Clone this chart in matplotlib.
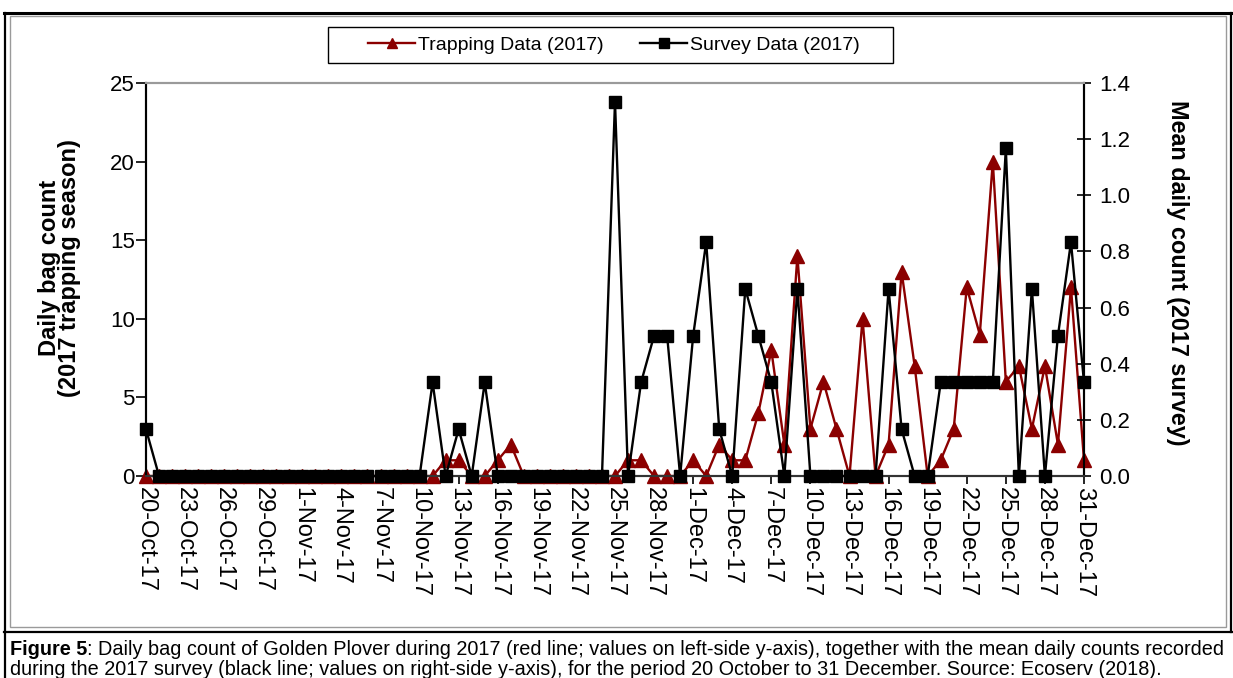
import matplotlib
matplotlib.use("Agg")
import matplotlib.pyplot as plt
import matplotlib.dates as mdates
from matplotlib.lines import Line2D
from matplotlib.patches import Rectangle
import pandas as pd

# ---- data ----
start_date = "2017-10-20"
end_date = "2017-12-31"
trapping = [0, 0, 0, 0, 0, 0, 0, 0, 0, 0, 0, 0, 0, 0, 0, 0, 0, 0, 0, 0, 0, 0, 0,
            1, 1, 0, 0, 1, 2, 0, 0, 0, 0, 0, 0, 0, 0, 1, 1, 0, 0, 0, 1, 0, 2, 1, 1,
            4, 8, 2, 14, 3, 6, 3, 0, 10, 0, 2, 13, 7, 0, 1, 3, 12, 9, 20, 6, 7, 3,
            7, 2, 12, 1]
survey_sixths = [1, 0, 0, 0, 0, 0, 0, 0, 0, 0, 0, 0, 0, 0, 0, 0, 0, 0, 0, 0, 0, 0,
                 2, 0, 1, 0, 2, 0, 0, 0, 0, 0, 0, 0, 0, 0, 8, 0, 2, 3, 3, 0, 3, 5,
                 1, 0, 4, 3, 2, 0, 4, 0, 0, 0, 0, 0, 0, 4, 1, 0, 0, 2, 2, 2, 2, 2,
                 7, 0, 4, 0, 3, 5, 2]
survey = [v / 6 for v in survey_sixths]
left_ticks = [0, 5, 10, 15, 20, 25]
right_ticks = [0.0, 0.2, 0.4, 0.6, 0.8, 1.0, 1.2, 1.4]
trap_label = "Trapping Data (2017)"
survey_label = "Survey Data (2017)"
left_ylabel = "Daily bag count\n(2017 trapping season)"
right_ylabel = "Mean daily count (2017 survey)"
caption_bold = "Figure 5"
caption_line1 = ": Daily bag count of Golden Plover during 2017 (red line; values on left-side y-axis), together with the mean daily counts recorded"
caption_line2 = "during the 2017 survey (black line; values on right-side y-axis), for the period 20 October to 31 December. Source: Ecoserv (2018)."

dates = pd.date_range(start_date, end_date, freq="D")

plt.rcParams['font.family'] = ['Liberation Sans', 'DejaVu Sans']

W, H = 1233, 678
fig = plt.figure(figsize=(W / 100, H / 100), dpi=100)

def fx(px):
    return px / W

def fy(py):
    return 1 - py / H

# frame lines (table cell look)
fig.add_artist(Line2D([fx(4), fx(1233)], [fy(13), fy(13)], color='black', lw=2.2))
fig.add_artist(Line2D([fx(5), fx(5)], [fy(13), fy(678)], color='black', lw=1.6))
fig.add_artist(Line2D([fx(1231), fx(1231)], [fy(13), fy(632)], color='black', lw=1.6))
fig.add_artist(Line2D([fx(4), fx(1233)], [fy(632), fy(632)], color='black', lw=1.6))
fig.add_artist(Rectangle((fx(10), fy(627)), fx(1226) - fx(10), fy(16) - fy(627),
                         fill=False, edgecolor='#9a9a9a', lw=1.0))

ax = fig.add_axes([fx(146), fy(476), fx(1084) - fx(146), fy(83) - fy(476)])
ax2 = ax.twinx()

red = '#8b0000'
l1, = ax.plot(dates, trapping, color=red, lw=1.7, marker='^', markersize=9.5,
              markerfacecolor=red, markeredgecolor=red, clip_on=False, zorder=3)
l2, = ax2.plot(dates, survey, color='black', lw=1.7, marker='s', markersize=9,
               markerfacecolor='black', markeredgecolor='black', clip_on=False, zorder=4)

ax.set_xlim(dates[0], dates[-1])
ax.set_ylim(0, 25)
ax2.set_ylim(0, 1.4)
ax.set_yticks(left_ticks)
ax2.set_yticks(right_ticks)
ax2.set_yticklabels([f"{t:.1f}" for t in right_ticks])
ax.set_xticks(dates[::3])
ax.xaxis.set_major_formatter(mdates.DateFormatter('%-d-%b-%y'))

for lab in ax.get_xticklabels():
    lab.set_rotation(-90)
    lab.set_fontsize(17)
ax.tick_params(axis='x', direction='out', length=6, width=1.2, pad=2)
ax.tick_params(axis='y', direction='out', length=7, width=1.2, labelsize=16, pad=1)
ax2.tick_params(axis='y', direction='inout', length=10, width=1.2, labelsize=16, pad=6)

for a in (ax, ax2):
    a.spines['top'].set_color('#9a9a9a')
    a.spines['top'].set_linewidth(1.5)
    a.spines['left'].set_linewidth(1.5)
    a.spines['right'].set_linewidth(1.5)
    a.spines['bottom'].set_linewidth(1.5)
    a.spines['bottom'].set_color('#333333')
ax.patch.set_visible(False)

ax.set_ylabel(left_ylabel, fontsize=17, fontweight='bold', linespacing=0.85)
ax.yaxis.set_label_coords(-0.069, 0.53)
ax2.set_ylabel(right_ylabel, fontsize=16.8, fontweight='bold', rotation=-90)
ax2.yaxis.set_label_coords(1.112, 0.518)

# legend box and legend
fig.add_artist(Rectangle((fx(328), fy(63)), fx(893) - fx(328), fy(27) - fy(63),
                         fill=True, facecolor='white', edgecolor='black', lw=1.0))
leg = fig.legend([l1, l2], [trap_label, survey_label], loc='center',
                 bbox_to_anchor=(fx(614), fy(45)), ncol=2, fontsize=14,
                 frameon=False, handlelength=2.4, columnspacing=1.9,
                 borderpad=0.3, handletextpad=0.15, markerscale=0.75)

# caption
cap_size = 14.3
t1 = fig.text(fx(10), fy(655), caption_bold, fontsize=cap_size, fontweight='bold',
              va='baseline', ha='left')
fig.canvas.draw()
bb = t1.get_window_extent()
fig.text(bb.x1 / W, fy(655), caption_line1, fontsize=cap_size, va='baseline', ha='left')
fig.text(fx(10), fy(675), caption_line2, fontsize=cap_size, va='baseline', ha='left')

fig.savefig('out.png', dpi=100)
